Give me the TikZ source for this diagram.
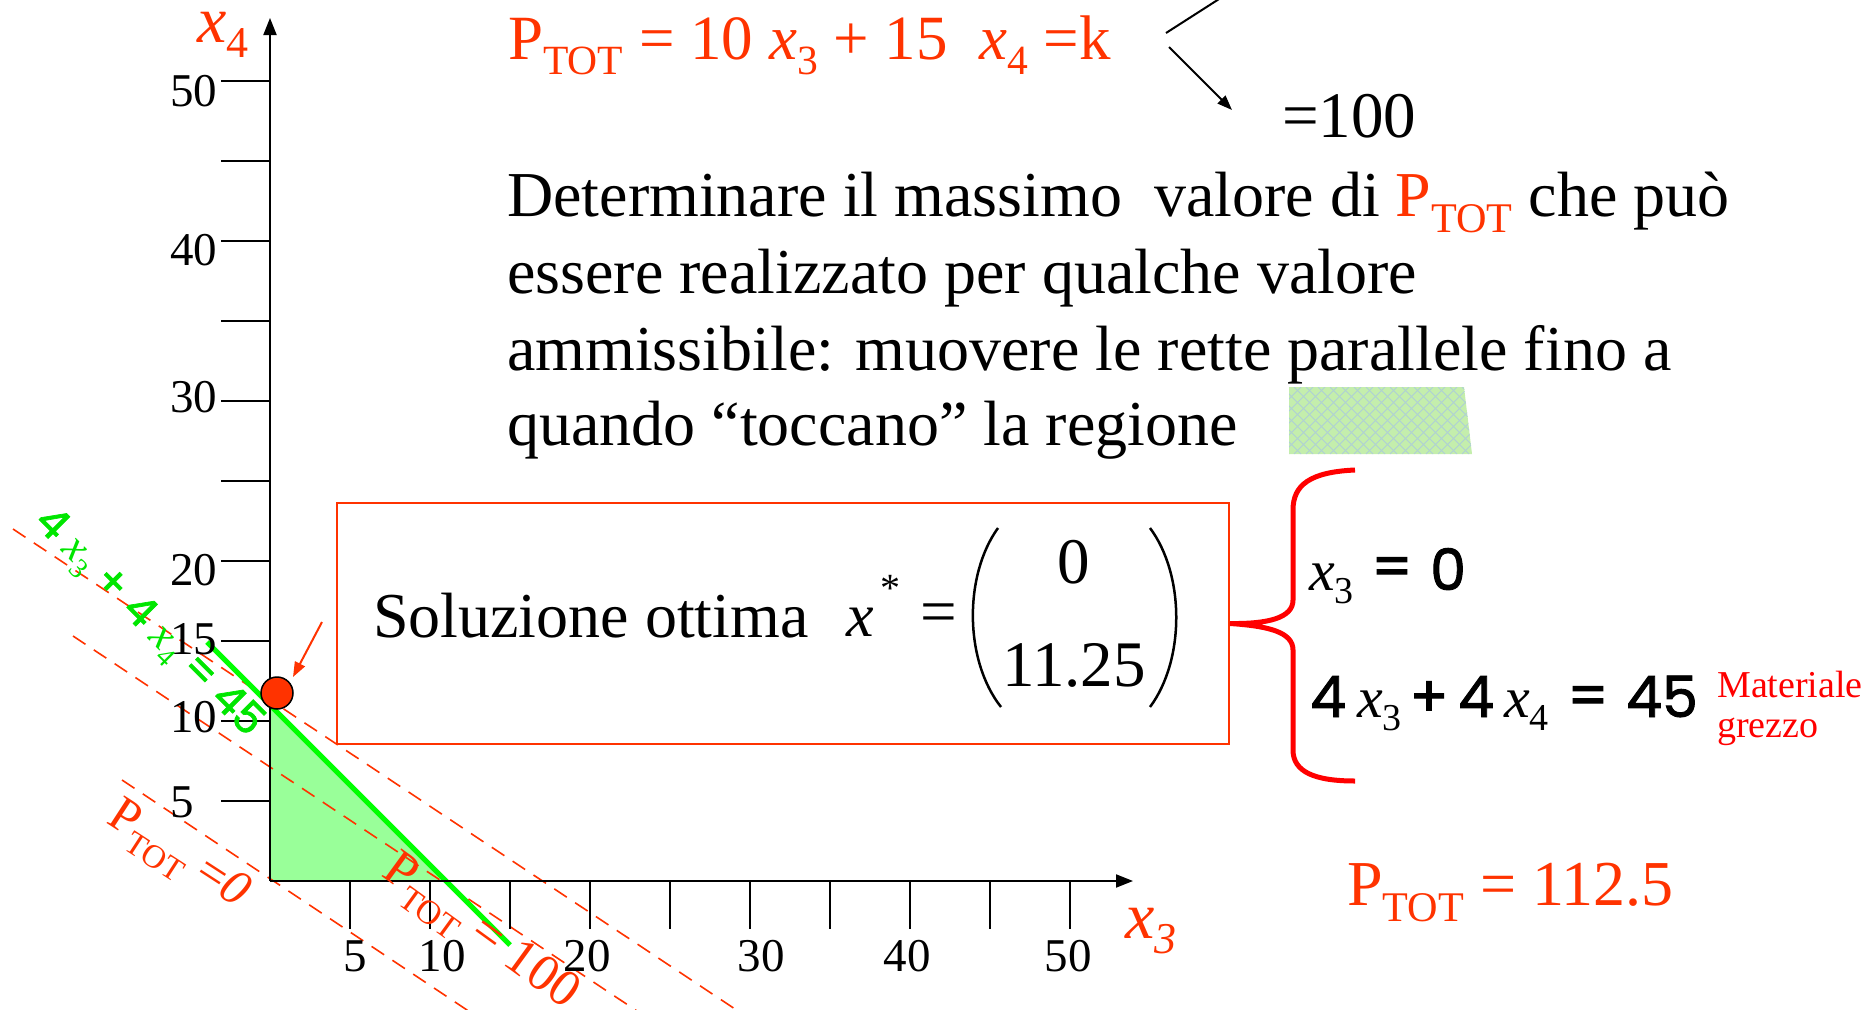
\documentclass[tikz,border=0pt]{standalone}
\usepackage{graphicx}
\usepackage{fontspec}
\setmainfont{Liberation Serif}
\newfontfamily\gothic{Poppins}[FakeBold=1.6]
\usetikzlibrary{arrows.meta}
\definecolor{pred}{HTML}{FF3300}
\definecolor{bred}{HTML}{FF0000}
\definecolor{lgreen}{HTML}{00FF00}
\definecolor{tgreen}{HTML}{00E600}
\definecolor{fgreen}{HTML}{99FF99}
\definecolor{pgreen}{HTML}{C4EEAC}
\definecolor{phatch}{HTML}{AECFD6}
\newcommand\fs[1]{\fontsize{#1}{#1}\selectfont}
\newcommand\Psub[1]{\raisebox{-0.25em}{\scalebox{0.66}{#1}}}
\newcommand\PTOT{P\Psub{TOT}}
\tikzset{
  ax/.style={line width=2pt, black},
  dashl/.style={pred, line width=1.6pt, dash pattern=on 15pt off 10pt},
  lbl/.style={inner sep=0pt, font=\fs{47}},
  txt/.style={inner sep=0pt, anchor=base west},
  tipA/.style={-{Triangle[length=17pt,width=13pt]}},
  tipB/.style={-{Triangle[length=15pt,width=11pt]}},
}
\begin{document}
\begin{tikzpicture}[x=1pt,y=-1pt]
\useasboundingbox (0,0) rectangle (1876,1009);
% feasible region
\fill[fgreen] (270,881) -- (270,704) -- (446,881) -- cycle;
% iso-profit lines
\draw[dashl] (13,529) -- (735,1009);
\draw[dashl] (73,636) -- (640,1013);
\draw[dashl] (122,780) -- (470,1012);
% constraint line
\draw[lgreen, line width=5pt] (207,642) -- (510,945);
% axes
\coordinate (O) at (270,881);
\coordinate (ytip) at (270,18);
\coordinate (xtip) at (1133,881);
\draw[ax, tipA] (O) -- (ytip);
\draw[ax, tipA] (O) -- (xtip);
\foreach \v in {5,10,...,50} {
  \draw[ax] (221,{881-16*\v}) -- (270,{881-16*\v});
  \draw[ax] ({270+16*\v},881) -- ({270+16*\v},929);
}
\foreach \v/\yy in {50/91,40/250,30/397,20/570,15/639,10/717,5/802}
  \node[lbl, anchor=west] (yl\v) at (170,\yy) {\v};
\foreach \v/\xx in {5/355,10/442,20/587,30/761,40/907,50/1068}
  \node[lbl] (xl\v) at (\xx,956) {\v};
\node[txt, text=pred] (xfour) at (197,42) {\fs{66}\textit{x}\raisebox{-15pt}{\fs{44}4}};
\node[txt, text=pred] (xthree) at (1125,938) {\fs{66}\textit{x}\raisebox{-15pt}{\fs{44}\textit{3}}};
% optimum point
\node[circle, draw=black, fill=pred, line width=1.5pt, minimum size=32pt, inner sep=0pt] (dot) at (277,693) {};
\coordinate (arrS) at (322,622);
\coordinate (arrT) at (293,677);
\draw[pred, line width=2pt, tipB] (arrS) -- (arrT);
% rotated labels
\node[rotate=-45, inner sep=0pt, text=tgreen] (glab) at (148,623)
  {\gothic\fs{43}4 {\rmfamily\itshape x}\raisebox{-9pt}{\rmfamily\fs{28}3} + 4 {\rmfamily\itshape x}\raisebox{-9pt}{\rmfamily\fs{28}4} = 45};
\node[rotate=-33, inner sep=0pt, text=pred] (pzero) at (177,857) {\fs{50}\PTOT{} =\textit{0}};
\node[rotate=-36, inner sep=0pt, text=pred] (phund) at (479,934) {\fs{52}\PTOT{} = 100};
% top formula
\node[txt, text=pred] (formula) at (508,59) {\fs{63}\PTOT{} = 10 \textit{x}\Psub{3} + 15 \ \textit{x}\Psub{4} =k};
\coordinate (fA) at (1166,33);
\coordinate (fB) at (1230,-8);
\coordinate (fC) at (1169,47);
\coordinate (fD) at (1232,110);
\draw[line width=2pt] (fA) -- (fB);
\draw[line width=2pt, tipB] (fC) -- (fD);
\node[txt] (hund) at (1282,137) {\fs{65}=100};
% main text
\node[txt] (l1) at (507,216) {\fs{64}Determinare il massimo \ valore di \textcolor{pred}{\PTOT} che può};
\node[txt] (l2) at (507,293) {\fs{64}essere realizzato per qualche valore};
\node[txt] (l3) at (507,370) {\fs{64}ammissibile: muovere le rette parallele fino a};
\node[txt] (l4) at (507,445) {\fs{64}quando “toccano” la regione};
% hatched patch
\fill[pgreen] (1289,387) -- (1464,387) -- (1472,454) -- (1289,454) -- cycle;
\begin{scope}
  \clip (1289,387) -- (1464,387) -- (1472,454) -- (1289,454) -- cycle;
  \foreach \a in {1210,1222,...,1480} {
    \draw[phatch, line width=0.8pt] (\a,454) -- ++(67,-67);
    \draw[phatch, line width=0.8pt] (\a,387) -- ++(67,67);
  }
\end{scope}
% solution box
\node[draw=pred, line width=2pt, minimum width=892pt, minimum height=241pt, inner sep=0pt, anchor=north west] (box) at (336,502) {};
\node[txt] (sol) at (373,637) {\fs{64}Soluzione ottima};
\node[txt] (xstar) at (846,636) {\fs{62}\textit{x}};
\node[inner sep=0pt] (star) at (890,588) {\fs{40}*};
\node[inner sep=0pt] (eqs) at (939,619) {\fs{65}=};
\draw[line width=2.5pt] (998,528) .. controls (964,575) and (964,660) .. (1001,707);
\draw[line width=2.5pt] (1150,528) .. controls (1185,575) and (1185,660) .. (1150,707);
\node[inner sep=0pt] (v1) at (1074,562) {\fs{65}0};
\node[inner sep=0pt] (v2) at (1074,665) {\fs{65}11.25};
% brace
\draw[bred, line width=5pt] (1355,470) .. controls (1310,472) and (1293,485) .. (1293,510) -- (1293,600)
  .. controls (1293,618) and (1268,624) .. (box.east)
  .. controls (1268,626) and (1293,632) .. (1293,650) -- (1293,750)
  .. controls (1293,772) and (1315,781) .. (1355,781);
% system
\node[txt] (ea) at (1309,590) {\fs{58}\textit{x}\raisebox{-13pt}{\fs{38}3}};
\node[inner sep=0pt] (eb) at (1392,572) {\gothic\fs{57}=};
\node[txt] (ec) at (1430,590) {\gothic\fs{57}0};
\node[txt] (ed) at (1310,717) {\gothic\fs{57}4};
\node[txt] (ee) at (1357,717) {\fs{58}\textit{x}\raisebox{-13pt}{\fs{38}3}};
\node[inner sep=0pt] (ef) at (1429,699) {\gothic\fs{57}+};
\node[txt] (eg) at (1458,717) {\gothic\fs{57}4};
\node[txt] (eh) at (1504,717) {\fs{58}\textit{x}\raisebox{-13pt}{\fs{38}4}};
\node[inner sep=0pt] (ei) at (1588,701) {\gothic\fs{57}=};
\node[txt] (ej) at (1626,717) {\gothic\fs{57}45};
\node[txt, text=bred] (mat) at (1717,697) {\fs{38}Materiale};
\node[txt, text=bred] (grez) at (1717,737) {\fs{38}grezzo};
\node[txt, text=pred] (popt) at (1347,905) {\fs{64}\PTOT{} = 112.5};
\end{tikzpicture}
\end{document}
